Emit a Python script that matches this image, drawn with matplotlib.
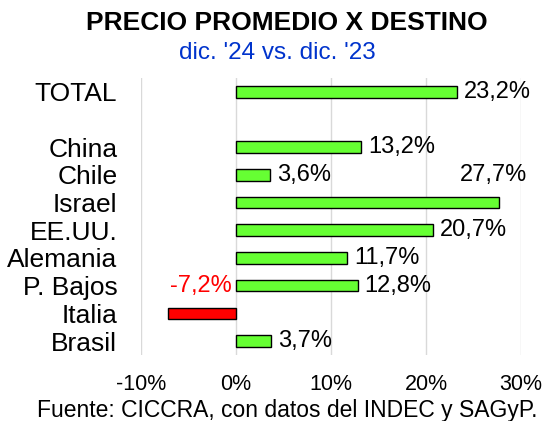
import matplotlib.pyplot as plt
import numpy as np

plt.rcParams["font.family"] = ["Liberation Sans", "DejaVu Sans"]

categories = ["TOTAL", "China", "Chile", "Israel", "EE.UU.", "Alemania", "P. Bajos", "Italia", "Brasil"]
positions = [0, 2, 3, 4, 5, 6, 7, 8, 9]
values = [23.2, 13.2, 3.6, 27.7, 20.7, 11.7, 12.8, -7.2, 3.7]
labels = ["23,2%", "13,2%", "3,6%", "27,7%", "20,7%", "11,7%", "12,8%", "-7,2%", "3,7%"]
ticks = [-10, 0, 10, 20, 30]
tick_labels = ["-10%", "0%", "10%", "20%", "30%"]

fig = plt.figure(figsize=(5.44, 4.21), dpi=100)
ax = fig.add_axes([0.259, 0.157, 0.699, 0.658])

colors = ["#FF0000" if v < 0 else "#66FF33" for v in values]
ax.barh(positions, values, height=0.42, color=colors, edgecolor="black", linewidth=1, zorder=3)

for p, v, lab in zip(positions, values, labels):
    if v < 0:
        # label sits one row up, left of zero
        ax.annotate(lab, xy=(0, p - 1), xytext=(-3, 0), textcoords="offset points",
                    ha="right", va="center", fontsize=17, color="#FF0000")
    elif v > 25:
        # long bar: label placed above, at the right edge
        ax.annotate(lab, xy=(v, p - 1), xytext=(20, 0), textcoords="offset points",
                    ha="right", va="center", fontsize=17)
    else:
        ax.annotate(lab, xy=(v, p), xytext=(5, 0), textcoords="offset points",
                    ha="left", va="center", fontsize=17)

ax.set_xlim(-10, 30)
ax.set_ylim(9.5, -0.5)
ax.set_xticks(ticks)
ax.set_xticklabels(tick_labels, fontsize=15.5)
ax.set_yticks(positions)
ax.set_yticklabels(categories, fontsize=19)
ax.tick_params(axis="x", length=0, pad=14)
ax.tick_params(axis="y", length=0, pad=17)
ax.grid(axis="x", color="#D9D9D9", linewidth=1, zorder=0)
for s in ax.spines.values():
    s.set_visible(False)

fig.text(0.528, 0.945, "PRECIO PROMEDIO X DESTINO", ha="center", va="center",
         fontsize=19, fontweight="bold")
fig.text(0.51, 0.874, "dic. '24 vs. dic. '23", ha="center", va="center",
         fontsize=17.5, color="#0033CC")
fig.text(0.528, 0.025, "Fuente: CICCRA, con datos del INDEC y SAGyP.", ha="center", va="center",
         fontsize=16.5)

fig.savefig("out.png", dpi=100)
